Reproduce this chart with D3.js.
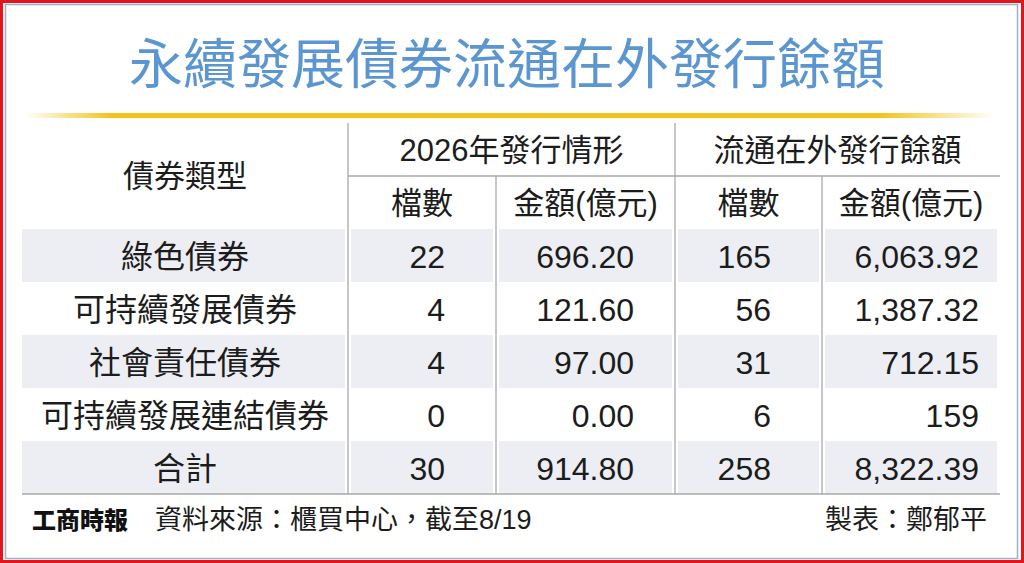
<!DOCTYPE html>
<html>
<head>
<meta charset="utf-8">
<script src="https://cdn.jsdelivr.net/npm/d3@7"></script>
<style>
  html, body { margin: 0; padding: 0; background: #fff; }
  #viz svg { display: block; }
</style>
</head>
<body>
<div id="viz"></div>
<script>
// data
const title = "永續發展債券流通在外發行餘額";
const groupHeaders = ["2026年發行情形", "流通在外發行餘額"];
const subHeaders = ["檔數", "金額(億元)", "檔數", "金額(億元)"];
const categories = ["綠色債券", "可持續發展債券", "社會責任債券", "可持續發展連結債券", "合計"];
const count2026 = [22, 4, 4, 0, 30];
const amount2026 = [696.20, 121.60, 97.00, 0.00, 914.80];
const countOut = [165, 56, 31, 6, 258];
const amountOut = [6063.92, 1387.32, 712.15, 159, 8322.39];
const sourceNote = "資料來源：櫃買中心，截至8/19";
const maker = "製表：鄭郁平";

function draw() {
	let width = 1024, height = 563;
	let font = "'Liberation Sans', Arial, 'Noto Sans CJK TC', sans-serif";
	let ink = "#1c1c1c";
	let grid = "#a9a9a9";

	let svg = d3.select("#viz").append("svg")
		.attr("width", width).attr("height", height)
		.attr("viewBox", "0 0 " + width + " " + height);

	// frames
	svg.append("rect")
		.attr("x", 1.5).attr("y", 1.5)
		.attr("width", width - 3).attr("height", height - 3)
		.style("fill", "#fff")
		.style("stroke", "#e3141b").style("stroke-width", 3);
	svg.append("rect")
		.attr("x", 5.5).attr("y", 4.5)
		.attr("width", 1012).attr("height", 554)
		.style("fill", "none")
		.style("stroke", "#9db0c6").style("stroke-width", 1.5);

	// title
	svg.append("text").text(title)
		.attr("x", 507).attr("y", 84)
		.attr("text-anchor", "middle")
		.style("fill", "#5b96d0")
		.style("font-size", "54px")
		.style("font-family", "'Noto Sans CJK TC', sans-serif")
		.style("font-weight", 400);

	// gold rule with faded ends
	let grad = svg.append("defs").append("linearGradient")
		.attr("id", "gold").attr("x1", "0%").attr("x2", "100%");
	grad.append("stop").attr("offset", "0%").attr("stop-color", "#f2c31c").attr("stop-opacity", 0);
	grad.append("stop").attr("offset", "9%").attr("stop-color", "#f2c31c").attr("stop-opacity", 1);
	grad.append("stop").attr("offset", "88%").attr("stop-color", "#f2c31c").attr("stop-opacity", 1);
	grad.append("stop").attr("offset", "100%").attr("stop-color", "#f2c31c").attr("stop-opacity", 0);
	svg.append("rect")
		.attr("x", 25).attr("y", 113)
		.attr("width", 970).attr("height", 5)
		.style("fill", "url(#gold)");

	// table layout
	let edges = [22, 348, 496, 675, 822, 1000];
	let headTop = 123, headMid = 176, headBottom = 229, tableBottom = 494;

	let y = d3.scaleBand()
		.domain(categories)
		.range([headBottom, tableBottom]);

	let colIdx = d3.range(5);
	let shaded = [0, 2, 4];

	// shaded rows, per cell with a small gap
	shaded.forEach(function(r) {
		svg.selectAll(null)
			.data(colIdx)
			.enter().append("rect")
			.attr("x", d => edges[d] + (d === 0 ? 0 : 3))
			.attr("y", y(categories[r]))
			.attr("width", d => edges[d + 1] - edges[d] - (d === 0 ? 3 : 6))
			.attr("height", y.bandwidth())
			.style("fill", "#eceef3");
	});

	// grid lines
	function line(x1, y1, x2, y2) {
		svg.append("line")
			.attr("x1", x1).attr("y1", y1)
			.attr("x2", x2).attr("y2", y2)
			.attr("stroke", grid).attr("stroke-width", 1.3);
	}
	line(edges[1], headTop, edges[1], tableBottom);
	line(edges[3], headTop, edges[3], tableBottom);
	line(edges[2], headMid, edges[2], tableBottom);
	line(edges[4], headMid, edges[4], tableBottom);
	line(edges[1], headMid, edges[5], headMid);
	line(edges[0], tableBottom, edges[5], tableBottom);

	// headers
	function txt(s, x, yy, anchor, size) {
		return svg.append("text").text(s)
			.attr("x", x).attr("y", yy)
			.attr("text-anchor", anchor)
			.style("fill", ink)
			.style("font-size", size + "px")
			.style("font-family", font);
	}
	txt("債券類型", 185, 187, "middle", 31);
	txt(groupHeaders[0], (edges[1] + edges[3]) / 2, 161, "middle", 31);
	txt(groupHeaders[1], (edges[3] + edges[5]) / 2, 161, "middle", 31);
	subHeaders.forEach(function(h, i) {
		txt(h, (edges[i + 1] + edges[i + 2]) / 2, 214, "middle", 31);
	});

	// body cells
	let fmt2 = d3.format(",.2f");
	let fmtOut = v => Number.isInteger(v) ? d3.format(",")(v) : fmt2(v);
	let columns = [
		{ values: count2026, x: 445, f: d3.format(",") },
		{ values: amount2026, x: 634, f: fmt2 },
		{ values: countOut, x: 771, f: d3.format(",") },
		{ values: amountOut, x: 979, f: fmtOut }
	];
	let mid = y.bandwidth() / 2 + 12;

	svg.selectAll(".cat")
		.data(categories)
		.enter().append("text")
		.attr("class", "cat")
		.text(d => d)
		.attr("x", 185)
		.attr("y", d => y(d) + mid)
		.attr("text-anchor", "middle")
		.style("fill", ink)
		.style("font-size", "32px")
		.style("font-family", font);

	columns.forEach(function(c) {
		svg.selectAll(null)
			.data(c.values)
			.enter().append("text")
			.text(d => c.f(d))
			.attr("x", c.x)
			.attr("y", (d, i) => y(categories[i]) + mid)
			.attr("text-anchor", "end")
			.style("fill", ink)
			.style("font-size", "32px")
			.style("font-family", font);
	});

	// footer
	svg.append("text").text("工商時報")
		.attr("x", 32).attr("y", 529)
		.style("fill", "#111")
		.style("font-size", "24px")
		.style("font-family", "'Noto Sans CJK TC', sans-serif")
		.style("font-weight", 900);
	txt(sourceNote, 155, 529, "start", 27);
	txt(maker, 987, 529, "end", 27);
}

draw();
</script>
</body>
</html>
